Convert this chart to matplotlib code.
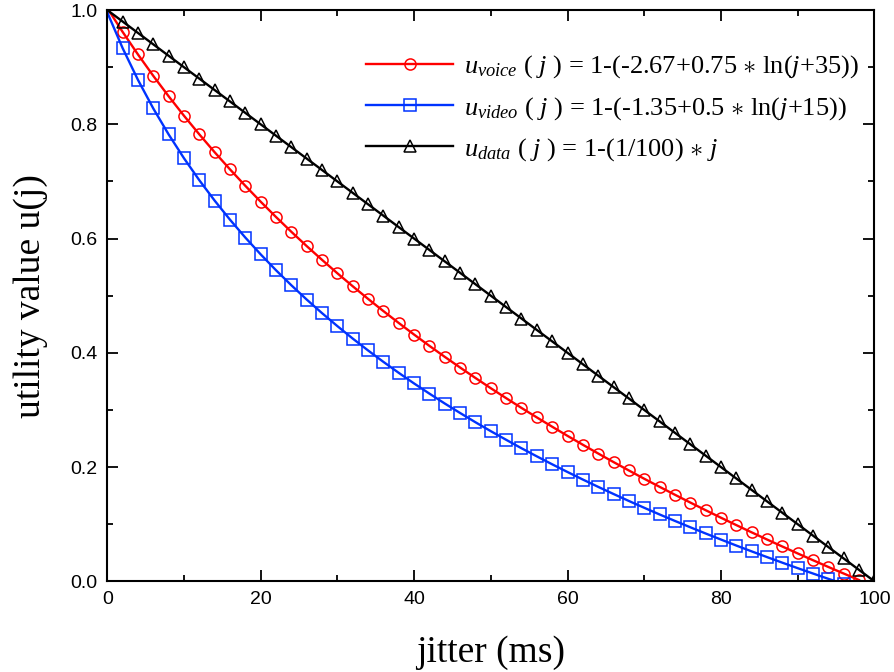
import matplotlib
matplotlib.use('Agg')
import matplotlib.pyplot as plt
from matplotlib.ticker import MultipleLocator

plt.rcParams['mathtext.fontset'] = 'custom'
plt.rcParams['mathtext.rm'] = 'Liberation Serif'
plt.rcParams['mathtext.it'] = 'Liberation Serif:italic'

# jitter (ms), one point every 2 ms
jitter = [0, 2, 4, 6, 8, 10, 12, 14, 16, 18, 20, 22, 24, 26, 28, 30, 32, 34, 36, 38,
          40, 42, 44, 46, 48, 50, 52, 54, 56, 58, 60, 62, 64, 66, 68, 70, 72, 74, 76, 78,
          80, 82, 84, 86, 88, 90, 92, 94, 96, 98, 100]

u_voice = [1.0035, 0.9618, 0.9223, 0.8848, 0.8491, 0.8150, 0.7824, 0.7511, 0.7211, 0.6923,
           0.6645, 0.6377, 0.6118, 0.5868, 0.5627, 0.5392, 0.5165, 0.4944, 0.4730, 0.4522,
           0.4319, 0.4121, 0.3929, 0.3742, 0.3559, 0.3380, 0.3206, 0.3035, 0.2869, 0.2706,
           0.2546, 0.2390, 0.2237, 0.2087, 0.1940, 0.1795, 0.1654, 0.1515, 0.1379, 0.1245,
           0.1113, 0.0984, 0.0857, 0.0732, 0.0609, 0.0488, 0.0369, 0.0251, 0.0136, 0.0022]

u_video = [0.9960, 0.9334, 0.8778, 0.8277, 0.7823, 0.7406, 0.7021, 0.6664, 0.6330, 0.6017,
           0.5723, 0.5445, 0.5182, 0.4932, 0.4694, 0.4467, 0.4249, 0.4041, 0.3841, 0.3649,
           0.3463, 0.3285, 0.3112, 0.2946, 0.2784, 0.2628, 0.2477, 0.2329, 0.2187, 0.2048,
           0.1913, 0.1781, 0.1653, 0.1528, 0.1406, 0.1287, 0.1170, 0.1057, 0.0946, 0.0837,
           0.0731, 0.0626, 0.0524, 0.0424, 0.0326, 0.0230, 0.0136, 0.0043, -0.0048]

u_data = [1.00, 0.98, 0.96, 0.94, 0.92, 0.90, 0.88, 0.86, 0.84, 0.82,
          0.80, 0.78, 0.76, 0.74, 0.72, 0.70, 0.68, 0.66, 0.64, 0.62,
          0.60, 0.58, 0.56, 0.54, 0.52, 0.50, 0.48, 0.46, 0.44, 0.42,
          0.40, 0.38, 0.36, 0.34, 0.32, 0.30, 0.28, 0.26, 0.24, 0.22,
          0.20, 0.18, 0.16, 0.14, 0.12, 0.10, 0.08, 0.06, 0.04, 0.02, 0.00]

labels = [r'$u_{voice}$ ( $j$ ) = 1-(-2.67+0.75 $\ast$ ln($j$+35))',
          r'$u_{video}$ ( $j$ ) = 1-(-1.35+0.5 $\ast$ ln($j$+15))',
          r'$u_{data}$ ( $j$ ) = 1-(1/100) $\ast$ $j$']

fig = plt.figure(figsize=(8.94, 6.72), dpi=100)
ax = fig.add_axes([0.120, 0.135, 0.858, 0.850])

series = [(u_voice, '#ff0000', 'o'), (u_video, '#0033ff', 's'), (u_data, 'black', '^')]
for (vals, col, mk), lab in zip(series, labels):
    x = jitter[:len(vals)]
    ax.plot(x, vals, color=col, lw=1.7, marker=mk, ms=8, mfc='none', mec=col,
            mew=1.1, markevery=slice(1, None), label=lab)

ax.set_xlim(0, 100)
ax.set_ylim(0, 1.0)
ax.xaxis.set_major_locator(MultipleLocator(20))
ax.xaxis.set_minor_locator(MultipleLocator(10))
ax.yaxis.set_major_locator(MultipleLocator(0.2))
ax.yaxis.set_minor_locator(MultipleLocator(0.1))
ax.yaxis.set_major_formatter(matplotlib.ticker.FormatStrFormatter('%.1f'))
ax.tick_params(which='both', direction='in', top=True, right=True, width=1.3)
ax.tick_params(which='major', length=8, labelsize=14, pad=7)
ax.tick_params(which='minor', length=4)
for t in ax.get_xticklabels() + ax.get_yticklabels():
    t.set_fontfamily('Liberation Sans')
for s in ax.spines.values():
    s.set_linewidth(1.5)

ax.set_xlabel('jitter (ms)', family='Liberation Serif', fontsize=27, labelpad=20)
ax.set_ylabel('utility value u(j)', family='Liberation Serif', fontsize=27, labelpad=16)

leg = ax.legend(loc='upper right', bbox_to_anchor=(1.0, 0.952), frameon=False,
                handlelength=3.3, prop={'family': 'Liberation Serif', 'size': 19},
                borderaxespad=0.2, labelspacing=0.55, handletextpad=0.4)

fig.savefig('out.png', dpi=100)
